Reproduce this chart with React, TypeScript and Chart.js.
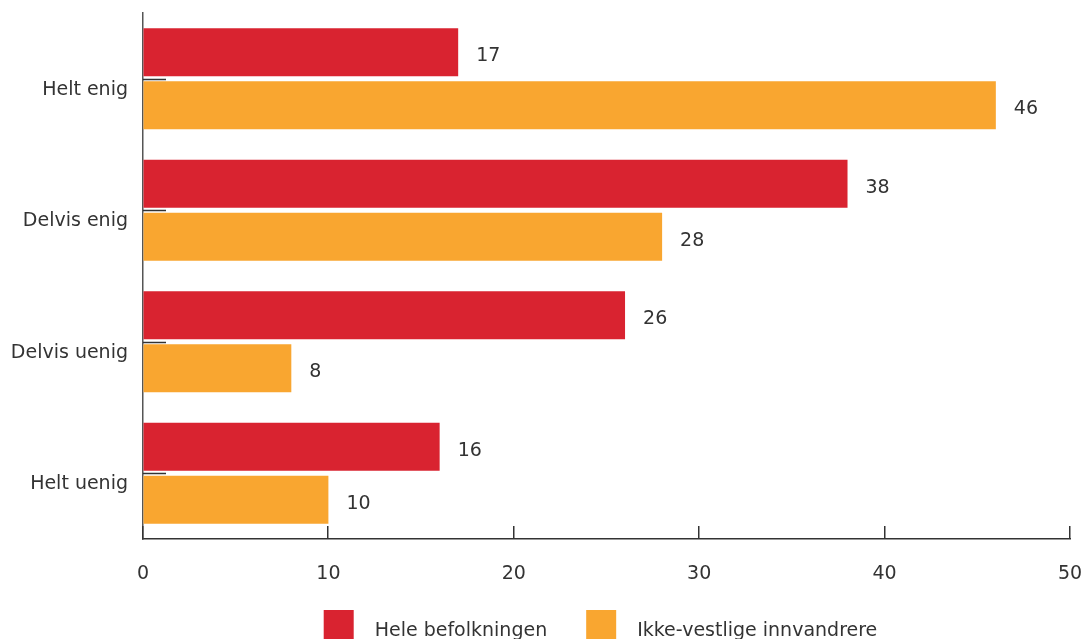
import React, { useEffect, useRef } from "react";
import { Chart, registerables } from "chart.js";

Chart.register(...registerables);

const categories = ["Helt enig", "Delvis enig", "Delvis uenig", "Helt uenig"];
const seriesNames = ["Hele befolkningen", "Ikke-vestlige innvandrere"];
const heleBefolkningen = [17, 38, 26, 16];
const ikkeVestlige = [46, 28, 8, 10];
const xTicks = [0, 10, 20, 30, 40, 50];

const RED = "#D92330";
const ORANGE = "#F9A630";
const TEXT = "#333333";
const FONT = "'DejaVu Sans', Verdana, sans-serif";

const zeroPad = (s: any) => {
  s.paddingTop = 0;
  s.paddingBottom = 0;
  s.paddingLeft = 0;
  s.paddingRight = 0;
};

const decorPlugin = {
  id: "decor",
  afterDraw(chart: any) {
    const ctx = chart.ctx;
    const area = chart.chartArea;
    const xs = chart.scales.x;
    const ys = chart.scales.y;
    ctx.save();
    // inner ticks on y axis
    ctx.strokeStyle = "#333";
    ctx.lineWidth = 1.5;
    categories.forEach((_, i) => {
      const y = Math.round(ys.getPixelForTick(i)) + 0.5;
      ctx.beginPath();
      ctx.moveTo(area.left, y);
      ctx.lineTo(area.left + 23, y);
      ctx.stroke();
    });
    // inner ticks on x axis
    xTicks.forEach((v) => {
      const x = Math.round(xs.getPixelForValue(v)) - 0.25;
      ctx.beginPath();
      ctx.moveTo(x, area.bottom);
      ctx.lineTo(x, area.bottom - 13);
      ctx.stroke();
    });
    // data labels
    ctx.font = `19px ${FONT}`;
    ctx.fillStyle = TEXT;
    ctx.textAlign = "left";
    ctx.textBaseline = "alphabetic";
    chart.data.datasets.forEach((ds: any, di: number) => {
      const meta = chart.getDatasetMeta(di);
      meta.data.forEach((el: any, i: number) => {
        ctx.fillText(String(ds.data[i]), el.x + 18, el.y + 9);
      });
    });
    // legend
    const box = 30;
    const gapText = 21;
    const gapItem = 39;
    const items = chart.data.datasets.map((ds: any) => ({
      label: ds.label,
      color: ds.backgroundColor,
      w: box + gapText + ctx.measureText(ds.label).width,
    }));
    const total = items.reduce((s: number, it: any) => s + it.w, 0) + gapItem * (items.length - 1);
    let x = (area.left + area.right) / 2 - total / 2 - 6;
    const top = 610;
    items.forEach((it: any) => {
      ctx.fillStyle = it.color;
      ctx.fillRect(x, top, box, box);
      ctx.fillStyle = TEXT;
      ctx.fillText(it.label, x + box + gapText, 636);
      x += it.w + gapItem;
    });
    ctx.restore();
  },
};

export default function App() {
  const ref = useRef<HTMLCanvasElement>(null);
  useEffect(() => {
    if (!ref.current) return;
    const chart = new Chart(ref.current, {
      type: "bar",
      data: {
        labels: categories,
        datasets: [
          {
            label: seriesNames[0],
            data: heleBefolkningen,
            backgroundColor: RED,
            categoryPercentage: 0.806,
            barPercentage: 0.906,
          },
          {
            label: seriesNames[1],
            data: ikkeVestlige,
            backgroundColor: ORANGE,
            categoryPercentage: 0.806,
            barPercentage: 0.906,
          },
        ],
      },
      options: {
        indexAxis: "y",
        animation: false,
        responsive: true,
        maintainAspectRatio: false,
        layout: { padding: { top: 13, right: 13, bottom: 0, left: 0 } },
        plugins: {
          legend: { display: false },
          tooltip: { enabled: false },
        },
        scales: {
          x: {
            min: 0,
            max: 50,
            afterFit: (s: any) => {
              s.height = 100;
              zeroPad(s);
            },
            ticks: {
              stepSize: 10,
              color: TEXT,
              font: { family: FONT, size: 19 },
              padding: 24,
            },
            grid: { drawOnChartArea: false, drawTicks: false },
            border: { display: true, color: "#333", width: 1.5 },
          },
          y: {
            afterFit: (s: any) => {
              s.width = 143;
              zeroPad(s);
            },
            ticks: {
              color: TEXT,
              font: { family: FONT, size: 19 },
              padding: 15,
              labelOffset: 11,
            },
            grid: { drawOnChartArea: false, drawTicks: false },
            border: { display: true, color: "#555", width: 1.5 },
          },
        },
      },
      plugins: [decorPlugin],
    });
    return () => chart.destroy();
  }, []);
  return (
    <div style={{ position: "absolute", left: 0, top: 0, width: 1083, height: 639, background: "#fff" }}>
      <canvas ref={ref} />
    </div>
  );
}
